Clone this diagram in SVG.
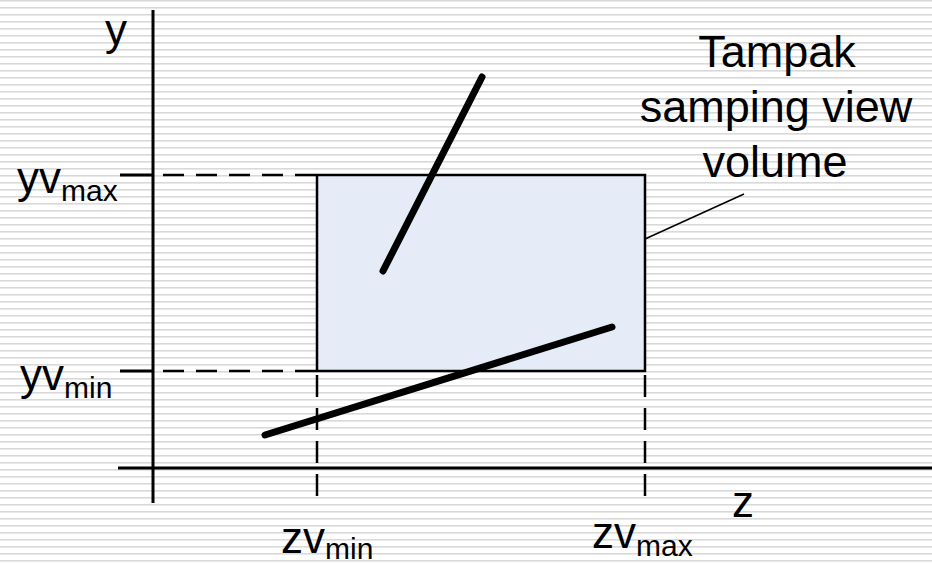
<svg xmlns="http://www.w3.org/2000/svg" width="932" height="564" viewBox="0 0 932 564">
<defs>
<pattern id="stripes" x="0" y="0" width="8" height="7" patternUnits="userSpaceOnUse">
<rect width="8" height="7" fill="#ffffff"/>
<rect y="0" width="8" height="1" fill="#d9d9d9"/>
<rect y="1" width="8" height="1" fill="#e8e8e8"/>
</pattern>
</defs>
<style>
.t{font-family:"Liberation Sans",Arial,sans-serif;fill:#000}
.big{font-size:44px}
.sub{font-size:30px}
.lbl{font-size:45px}
.ax{stroke:#000;stroke-width:3;fill:none}
.ds{stroke:#000;stroke-width:2.5;stroke-dasharray:21 12;fill:none}
.dv{stroke:#000;stroke-width:2.5;stroke-dasharray:22 11;fill:none}
.seg{stroke:#000;stroke-width:7;stroke-linecap:round;fill:none}
</style>
<rect width="932" height="564" fill="url(#stripes)"/>
<g id="view-volume">
<rect x="317" y="175" width="328" height="196" fill="#e6ecf7" stroke="#000" stroke-width="2.5"/>
</g>
<g id="connectors">
<line class="ax" x1="153" y1="10" x2="153" y2="503"/>
<line class="ax" x1="118" y1="468" x2="932" y2="468"/>
<line class="ax" x1="120" y1="175" x2="153" y2="175"/>
<line class="ds" x1="163" y1="175" x2="317" y2="175"/>
<line class="ax" x1="120" y1="371" x2="153" y2="371"/>
<line class="ds" x1="163" y1="371" x2="317" y2="371"/>
<line class="dv" x1="317" y1="375" x2="317" y2="503"/>
<line class="dv" x1="645" y1="375" x2="645" y2="503"/>
<line x1="645" y1="239" x2="744" y2="194" stroke="#000" stroke-width="1.5"/>
</g>
<g id="segment-1"><line class="seg" x1="383" y1="271" x2="482" y2="77"/></g>
<g id="segment-2"><line class="seg" x1="265" y1="435" x2="612" y2="327"/></g>
<g id="labels">
<text class="t big" x="105" y="45">y</text>
<text class="t big" x="732" y="517">z</text>
<text class="t big" x="17" y="193">yv<tspan class="sub" y="201">max</tspan></text>
<text class="t big" x="20" y="390">yv<tspan class="sub" y="398">min</tspan></text>
<text class="t big" x="281" y="553">zv<tspan class="sub" y="559">min</tspan></text>
<text class="t big" x="592" y="548">zv<tspan class="sub" y="556">max</tspan></text>
<text class="t lbl" text-anchor="middle" x="777" y="67">Tampak</text>
<text class="t lbl" text-anchor="middle" x="776" y="122">samping view</text>
<text class="t lbl" text-anchor="middle" x="775" y="177">volume</text>
</g>
</svg>
